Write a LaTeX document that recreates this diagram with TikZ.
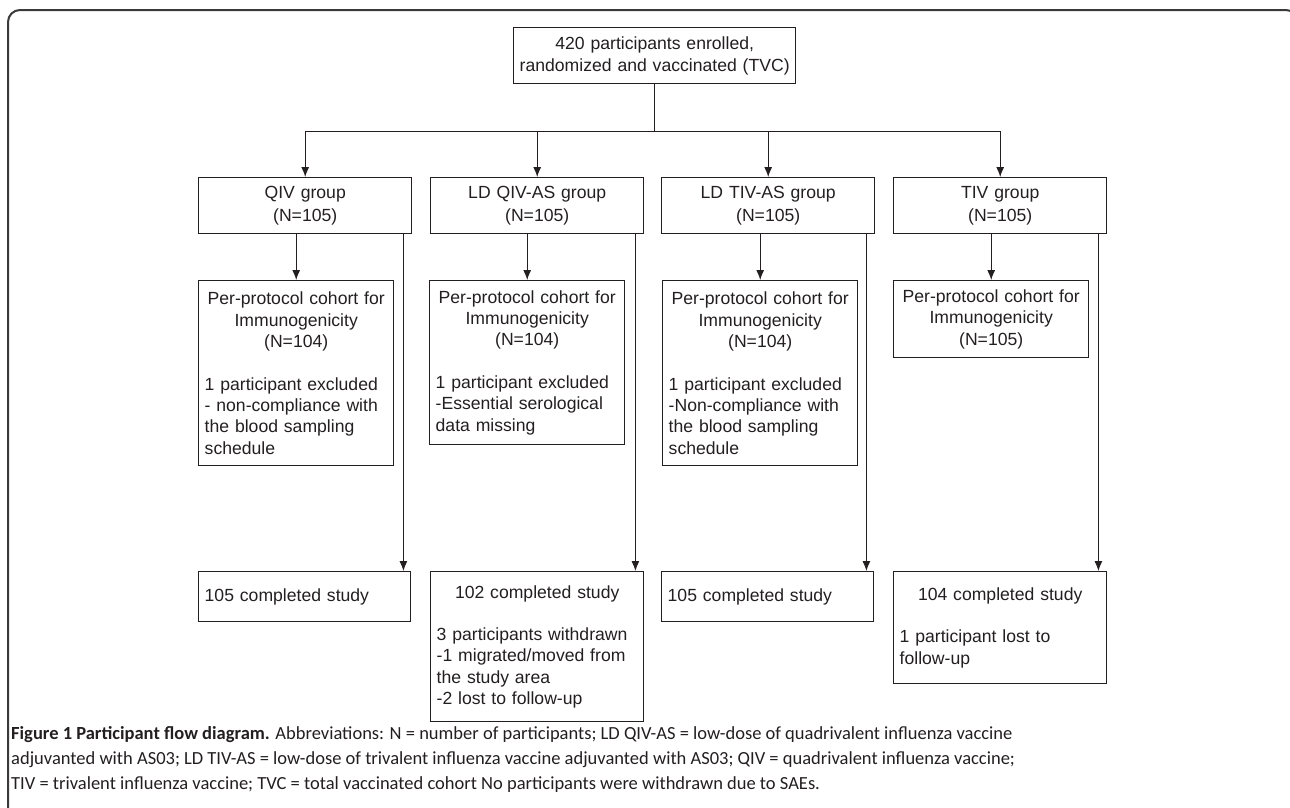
\documentclass[tikz,border=0pt]{standalone}
\usepackage{fontspec}
\setmainfont{Liberation Sans}
\newfontfamily\capfont{Carlito}
\usetikzlibrary{arrows.meta}

\definecolor{inkgray}{HTML}{231F20}
\definecolor{framegray}{HTML}{3A3A3A}

\tikzset{
  flowbox/.style={draw=inkgray, line width=1.4pt, anchor=north west, inner xsep=6pt, inner ysep=0pt,
    font=\fontsize{17.6}{21.3}\selectfont, text=inkgray},
  headbox/.style={flowbox, font=\fontsize{17.6}{22.5}\selectfont, align=center},
  flowline/.style={draw=inkgray, line width=1pt},
  flowarrow/.style={flowline, -{Latex[length=10pt,width=8pt]}},
}

\begin{document}
\begin{tikzpicture}[x=1pt, y=-1pt]
  \useasboundingbox (0,0) rectangle (1290,807);
  % frame
  \draw[line width=2pt, draw=framegray, rounded corners=12pt] (8,830) -- (8,10) -- (1298,10) -- (1298,830);

  % top box
  \node[headbox, minimum width=282pt, minimum height=56pt, text width=270pt] (tvc) at (513,27)
    {420 participants enrolled,\\randomized and vaccinated (TVC)};

  % groups
  \node[headbox, minimum width=213pt, minimum height=56pt, text width=201pt] (qiv) at (198,177) {QIV group\\(N=105)};
  \node[headbox, minimum width=213pt, minimum height=56pt, text width=201pt] (ldqiv) at (430,177) {LD QIV-AS group\\(N=105)};
  \node[headbox, minimum width=213pt, minimum height=56pt, text width=201pt] (ldtiv) at (661,177) {LD TIV-AS group\\(N=105)};
  \node[headbox, minimum width=213pt, minimum height=56pt, text width=201pt] (tiv) at (893,177) {TIV group\\(N=105)};

  % per-protocol cohorts
  \node[flowbox, minimum width=195pt, minimum height=185pt, text width=183pt] (ppqiv) at (198,280)
    {{\centering Per-protocol cohort for\\Immunogenicity\\(N=104)\par}\vskip21.3pt
     \noindent\raggedright 1 participant excluded\\- non-compliance with\\the blood sampling\\schedule};
  \node[flowbox, minimum width=195pt, minimum height=164pt, text width=183pt] (ppldqiv) at (429,280)
    {{\centering Per-protocol cohort for\\Immunogenicity\\(N=104)\par}\vskip21.3pt
     \noindent\raggedright 1 participant excluded\\-Essential serological\\data missing};
  \node[flowbox, minimum width=195pt, minimum height=185pt, text width=183pt] (ppldtiv) at (662,280)
    {{\centering Per-protocol cohort for\\Immunogenicity\\(N=104)\par}\vskip21.3pt
     \noindent\raggedright 1 participant excluded\\-Non-compliance with\\the blood sampling\\schedule};
  \node[flowbox, minimum width=195pt, minimum height=77pt, text width=183pt, align=center] (pptiv) at (893,280)
    {Per-protocol cohort for\\Immunogenicity\\(N=105)};

  % completed study
  \node[flowbox, minimum width=212pt, minimum height=50pt, text width=200pt, align=left] (doneqiv) at (198,571)
    {105 completed study};
  \node[flowbox, minimum width=213pt, minimum height=150pt, text width=201pt] (doneldqiv) at (430,571)
    {{\centering 102 completed study\par}\vskip21.3pt
     \noindent\raggedright 3 participants withdrawn\\-1 migrated/moved from\\the study area\\-2 lost to follow-up};
  \node[flowbox, minimum width=212pt, minimum height=50pt, text width=200pt, align=left] (doneldtiv) at (661,571)
    {105 completed study};
  \node[flowbox, minimum width=213pt, minimum height=112pt, text width=201pt] (donetiv) at (893,571)
    {{\centering 104 completed study\par}\vskip21.3pt
     \noindent\raggedright 1 participant lost to\\follow-up};

  % connectors
  \coordinate (split) at (tvc.south |- 0,131);
  \draw[flowline] (tvc.south) -- (split);
  \draw[flowline] (qiv.north |- split) -- (tiv.north |- split);
  \foreach \g in {qiv,ldqiv,ldtiv,tiv}{
    \draw[flowarrow] (\g.north |- split) -- (\g.north);
    \draw[flowarrow] (pp\g.north |- \g.south) -- (pp\g.north);
    \draw[flowarrow] ([xshift=-9pt]\g.south east) -- ([xshift=-9pt]\g.south east |- done\g.north);
  }

  % caption
  \node[anchor=north west, inner sep=0pt, align=left, text=inkgray,
    font=\capfont\fontsize{18.5}{25}\selectfont] (caption) at (11,726)
    {\textbf{Figure 1 Participant flow diagram.} Abbreviations: N = number of participants; LD QIV-AS = low-dose of quadrivalent influenza vaccine\\
     adjuvanted with AS03; LD TIV-AS = low-dose of trivalent influenza vaccine adjuvanted with AS03; QIV = quadrivalent influenza vaccine;\\
     TIV = trivalent influenza vaccine; TVC = total vaccinated cohort No participants were withdrawn due to SAEs.};
\end{tikzpicture}
\end{document}
